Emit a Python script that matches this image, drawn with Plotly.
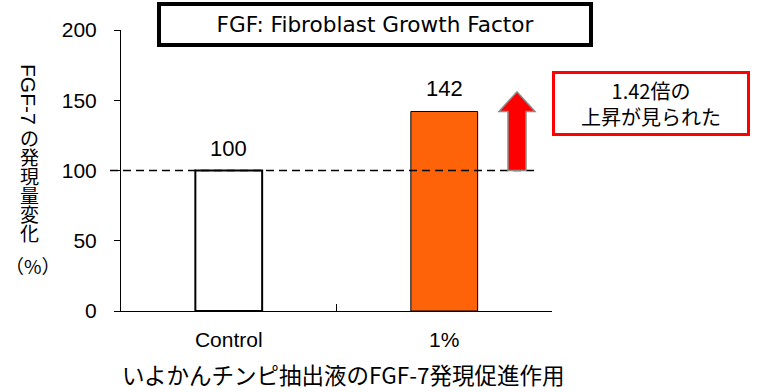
import plotly.graph_objects as go

# ---- data ----
categories = ["Control", "1%"]
values = [100, 142]
bar_fill = ["#FFFFFF", "#FF6309"]
bar_edge_width = [2, 1]
y_ticks = [0, 50, 100, 150, 200]
y_max = 200
baseline = 100
arrow_head_len = 14
ratio_text = "1.42倍の<br>上昇が見られた"
title_text = "FGF: Fibroblast Growth Factor"
x_title = "いよかんチンピ抽出液のFGF-7発現促進作用"
y_title_latin = "FGF-7"
y_title_cjk = list("の発現量変化")
y_unit = "（%）"

# ---- layout geometry (pixels) ----
W, H = 778, 392
L, T, PW, PH = 121, 30, 431, 281
R, B = W - L - PW, H - T - PH


def px(x):
    return (x - L) / PW


def py(y):
    return (H - B - y) / PH


LAT = "Liberation Sans, Arial, sans-serif"
CJK = "Noto Sans CJK JP, sans-serif"

fig = go.Figure()
fig.add_bar(
    x=categories, y=values, width=0.31,
    marker=dict(color=bar_fill, line=dict(color="black", width=bar_edge_width)),
    hoverinfo="skip",
)

annotations = []


def note(x, y, text, font, **kw):
    d = dict(x=x, y=y, xref="paper", yref="paper", text=text, showarrow=False,
             xanchor="center", yanchor="middle", font=font)
    d.update(kw)
    annotations.append(d)


# value labels
for c, v in zip(categories, values):
    annotations.append(dict(x=c, y=v, xref="x", yref="y", text=str(v), showarrow=False,
                            xanchor="center", yanchor="bottom", yshift=8,
                            font=dict(family=LAT, size=22, color="black")))

# y-axis title (vertical writing)
note(px(29), py(94), y_title_latin, dict(family=LAT, size=21, color="black"), textangle=90)
for i, ch in enumerate(y_title_cjk):
    note(px(29), py(137 + 19 * i), ch, dict(family=CJK, size=19, color="black"))
note(px(33), py(265), y_unit, dict(family=CJK, size=19, color="black"))

# x-axis title
note(px(343), py(374), x_title, dict(family=CJK, size=22.5, color="black"))

# title box
note(px(375), py(24), title_text, dict(family="DejaVu Sans", size=21.6, color="black"),
     width=426, height=35, bordercolor="black", borderwidth=4, borderpad=1, bgcolor="white")

# ratio box
note(px(651), py(103), ratio_text, dict(family=CJK, size=20, color="black"),
     width=190, height=57, bordercolor="#FF0000", borderwidth=3, borderpad=1, bgcolor="white")

shapes = []
# dashed baseline
shapes.append(dict(type="line", xref="paper", yref="paper", x0=px(110), x1=px(538),
                   y0=baseline / y_max, y1=baseline / y_max,
                   line=dict(color="black", width=1.5, dash="8px,5px"), layer="above"))
# up arrow
xs1, xs2 = px(508), px(526)
xh1, xh2, xc = px(499), px(535), px(517)
top = values[1]
tip = top + arrow_head_len
path = (f"M {xs1},{baseline} L {xs1},{top} L {xh1},{top} L {xc},{tip} "
        f"L {xh2},{top} L {xs2},{top} L {xs2},{baseline} Z")
shapes.append(dict(type="path", xref="paper", yref="y", path=path, fillcolor="#FF0000",
                   line=dict(color="#8C8C8C", width=1.5), layer="above"))

fig.update_layout(
    width=W, height=H,
    margin=dict(l=L, r=R, t=T, b=B, pad=0, autoexpand=False),
    paper_bgcolor="white", plot_bgcolor="white",
    showlegend=False,
    annotations=annotations, shapes=shapes,
)
fig.update_xaxes(
    type="category", range=[-0.5, 1.5], showline=True, linecolor="black", linewidth=1,
    ticks="inside", tickson="boundaries", ticklen=7, tickcolor="black", tickwidth=1,
    showgrid=False, zeroline=False, tickfont=dict(family=LAT, size=21, color="black"),
    ticklabelstandoff=10,
)
fig.update_yaxes(
    range=[0, y_max], tickvals=y_ticks, showline=True, linecolor="black", linewidth=1,
    ticks="outside", ticklen=6, tickcolor="black", tickwidth=1, showgrid=False, zeroline=False,
    tickfont=dict(family=LAT, size=21, color="black"), ticklabelstandoff=13,
)

fig.write_html("out.html", config={"displayModeBar": False},
               post_script="document.body.style.margin='0';")
